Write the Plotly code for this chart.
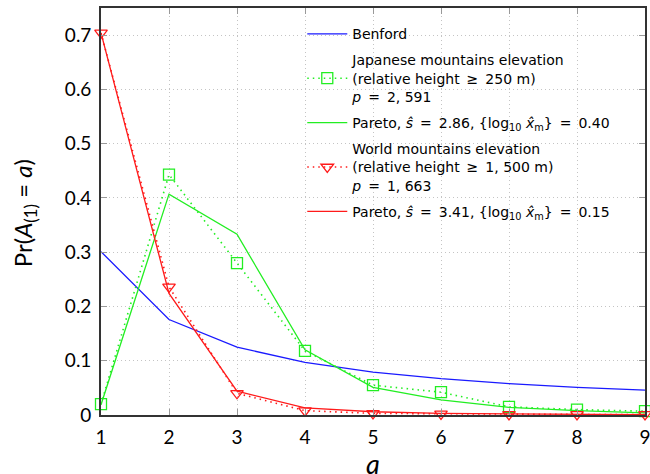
import plotly.graph_objects as go

# First-digit values a = 1..9
digits = [1, 2, 3, 4, 5, 6, 7, 8, 9]

# Benford's law probabilities
benford = [0.301, 0.176, 0.125, 0.097, 0.079, 0.067, 0.058, 0.051, 0.046]

# Japanese mountains (relative height >= 250 m): observed and Pareto fit
japan_obs = [0.020, 0.443, 0.280, 0.118, 0.055, 0.042, 0.015, 0.010, 0.007]
japan_pareto = [0.019, 0.407, 0.333, 0.120, 0.051, 0.028, 0.014, 0.008, 0.004]

# World mountains (relative height >= 1,500 m): observed and Pareto fit
world_obs = [0.704, 0.236, 0.040, 0.008, 0.003, 0.002, 0.001, 0.001, 0.001]
world_pareto = [0.704, 0.224, 0.044, 0.013, 0.006, 0.003, 0.002, 0.001, 0.0005]

y_ticks = [0, 0.1, 0.2, 0.3, 0.4, 0.5, 0.6, 0.7]
y_tick_labels = ["0", "0.1", "0.2", "0.3", "0.4", "0.5", "0.6", "0.7"]

x_title = "<i>a</i>"
y_title = "Pr(<i>A</i><sub>(1)</sub> = <i>a</i>)"

BLUE = "#1a1aff"
GREEN = "#22ee22"
RED = "#ff1a1a"
FONT = "Lato"
LEGEND_FONT = "DejaVu Sans"
SP = "\u2002"  # wider space around relation signs in the legend

fig = go.Figure()

fig.add_trace(go.Scatter(
    x=digits, y=benford, mode="lines", name="Benford", legendgroup="g1",
    line=dict(color=BLUE, width=1.3), cliponaxis=False,
))
fig.add_trace(go.Scatter(
    x=digits, y=japan_obs, mode="lines+markers", legendgroup="g2",
    name=f"Japanese mountains elevation<br>(relative height{SP}≥{SP}250 m)<br><i>p</i>{SP}={SP}2, 591",
    line=dict(color=GREEN, width=1.6, dash="1.5px,4px"),
    marker=dict(symbol="square-open", size=11, color=GREEN, line=dict(width=1.3)),
    cliponaxis=False,
))
fig.add_trace(go.Scatter(
    x=digits, y=japan_pareto, mode="lines", legendgroup="g3",
    name=f"Pareto, <i>ŝ</i>{SP}={SP}2.86, {{log<sub>10</sub> <i>x̂</i><sub>m</sub>}}{SP}={SP}0.40",
    line=dict(color=GREEN, width=1.3), cliponaxis=False,
))
fig.add_trace(go.Scatter(
    x=digits, y=world_obs, mode="lines+markers", legendgroup="g4",
    name=f"World mountains elevation<br>(relative height{SP}≥{SP}1, 500 m)<br><i>p</i>{SP}={SP}1, 663",
    line=dict(color=RED, width=1.6, dash="1.5px,4px"),
    marker=dict(symbol="triangle-down-open", size=11, color=RED, line=dict(width=1.3)),
    cliponaxis=False,
))
fig.add_trace(go.Scatter(
    x=digits, y=world_pareto, mode="lines", legendgroup="g5",
    name=f"Pareto, <i>ŝ</i>{SP}={SP}3.41, {{log<sub>10</sub> <i>x̂</i><sub>m</sub>}}{SP}={SP}0.15",
    line=dict(color=RED, width=1.3), cliponaxis=False,
))

axis_common = dict(
    showline=True, linecolor="#333333", linewidth=1.6, mirror="ticks",
    ticks="inside", ticklen=6, tickcolor="#999999", tickwidth=1,
    showgrid=True, gridcolor="#c4c4c4", griddash="1px,3px", gridwidth=1,
    zeroline=False, automargin=False, ticklabelstandoff=4,
    ticklabeloverflow="allow",
    tickfont=dict(family=FONT, size=19, color="black"),
)

fig.update_xaxes(range=[1, 9], tickvals=digits, ticktext=[str(d) for d in digits], **axis_common)
fig.update_yaxes(range=[0, 0.75], tickvals=y_ticks, ticktext=y_tick_labels, **axis_common)

# Axis titles placed as paper-anchored annotations
fig.add_annotation(
    text=x_title, xref="paper", yref="paper", x=0.5, y=-0.12,
    xanchor="center", yanchor="middle", showarrow=False,
    font=dict(family=FONT, size=27, color="black"),
)
fig.add_annotation(
    text=y_title, xref="paper", yref="paper", x=-0.1415, y=0.496,
    xanchor="center", yanchor="middle", showarrow=False, textangle=-90,
    font=dict(family=FONT, size=24, color="black"),
)

fig.update_layout(
    width=650, height=474,
    margin=dict(l=101, r=5, t=8, b=59),
    paper_bgcolor="white", plot_bgcolor="white",
    font=dict(family=FONT, color="black"),
    legend=dict(
        x=0.37, y=0.975, xanchor="left", yanchor="top",
        bgcolor="rgba(255,255,255,0)", borderwidth=0,
        font=dict(family=LEGEND_FONT, size=14, color="black"),
        tracegroupgap=5, itemwidth=40,
    ),
)

fig.write_html("out.html")
